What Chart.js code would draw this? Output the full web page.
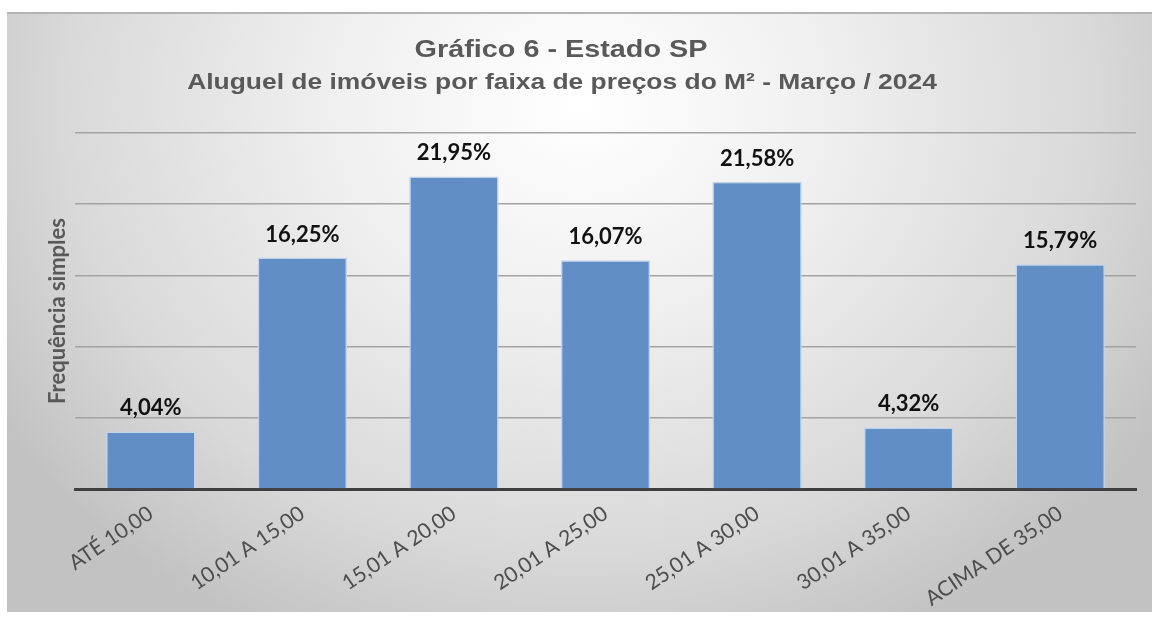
<!DOCTYPE html>
<html>
<head>
<meta charset="utf-8">
<script src="https://cdn.jsdelivr.net/npm/chart.js@4.4.1/dist/chart.umd.min.js"></script>
<style>
  html, body { margin: 0; padding: 0; background: #ffffff; }
  body { width: 1152px; height: 620px; position: relative; overflow: hidden; }
  #box {
    position: absolute; left: 7px; top: 12px; width: 1145px; height: 598px;
    border-top: 2px solid #b4b4b4;
    background: radial-gradient(ellipse 60% 100% at 50% 15%, #ffffff 0%, #f0f0f0 35%, #d9d9d9 75%, #c2c2c2 100%);
  }
  #c { position: absolute; left: 0; top: 0; }
</style>
</head>
<body>
<div id="box"><canvas id="c" width="1145" height="597"></canvas></div>
<script>
const titleText = "Gráfico 6 - Estado SP";
const subtitleText = "Aluguel de imóveis por faixa de preços do M² - Março / 2024";
const yAxisTitle = "Frequência simples";
const categories = ["ATÉ 10,00", "10,01 A 15,00", "15,01 A 20,00", "20,01 A 25,00", "25,01 A 30,00", "30,01 A 35,00", "ACIMA DE 35,00"];
const values = [4.04, 16.25, 21.95, 16.07, 21.58, 4.32, 15.79];
const yTickValues = [0, 5, 10, 15, 20, 25];

const overlay = {
  id: 'overlay',
  afterDraw(chart) {
    const ctx = chart.ctx;
    ctx.save();
    ctx.fillStyle = '#595959';
    ctx.textAlign = 'center';
    ctx.textBaseline = 'alphabetic';
    // title
    ctx.save();
    ctx.translate(554, 43);
    ctx.scale(1.2, 1);
    ctx.font = 'bold 24px "Liberation Sans", Arial, sans-serif';
    ctx.fillText(titleText, 0, 0);
    ctx.restore();
    // subtitle
    ctx.save();
    ctx.translate(555, 75);
    ctx.scale(1.2, 1);
    ctx.font = 'bold 22px "Liberation Sans", Arial, sans-serif';
    ctx.fillText(subtitleText, 0, 0);
    ctx.restore();
    // data labels
    const meta = chart.getDatasetMeta(0);
    ctx.fillStyle = '#111111';
    ctx.font = 'bold 22px Lato, "Open Sans", sans-serif';
    meta.data.forEach((bar, i) => {
      const v = chart.data.datasets[0].data[i];
      const txt = v.toFixed(2).replace('.', ',') + '%';
      ctx.fillText(txt, bar.x, bar.y - 16);
    });
    ctx.restore();
  }
};

new Chart(document.getElementById('c'), {
  type: 'bar',
  data: {
    labels: categories,
    datasets: [{
      data: values,
      backgroundColor: '#618ec5',
      borderColor: '#c2d4ec',
      borderWidth: 1.5,
      barPercentage: 0.59,
      categoryPercentage: 1.0
    }]
  },
  options: {
    responsive: false,
    animation: false,
    layout: { padding: { top: 119, right: 16, left: 0, bottom: 0 } },
    plugins: { legend: { display: false }, tooltip: { enabled: false }, title: { display: false } },
    scales: {
      x: {
        grid: { display: false, drawTicks: false },
        border: { display: true, color: '#3f3f3f', width: 3 },
        ticks: {
          autoSkip: false,
          minRotation: 34,
          maxRotation: 34,
          padding: 12,
          color: '#4d4d4d',
          font: { family: 'Lato, "Open Sans", sans-serif', size: 21 }
        },
        afterFit(scale) { scale.height = 122; }
      },
      y: {
        min: 0,
        max: 25,
        afterBuildTicks(scale) { scale.ticks = yTickValues.map(v => ({ value: v })); },
        ticks: { display: false },
        grid: { color: '#a3a3a3', lineWidth: 1.5, drawTicks: false },
        border: { display: false },
        title: {
          display: true,
          text: yAxisTitle,
          color: '#595959',
          font: { family: 'Lato, "Open Sans", sans-serif', size: 22, weight: 'bold' },
          padding: { top: 38, bottom: 0 }
        },
        afterFit(scale) { scale.width = 68; }
      }
    }
  },
  plugins: [overlay]
});
</script>
</body>
</html>
